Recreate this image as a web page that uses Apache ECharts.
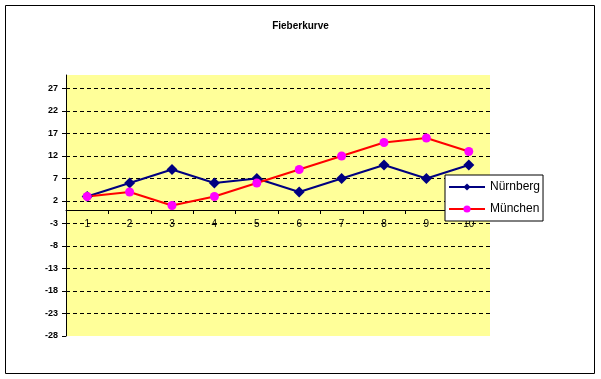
<!DOCTYPE html>
<html><head><meta charset="utf-8">
<script src="https://cdn.jsdelivr.net/npm/echarts@6/dist/echarts.min.js"></script>
<style>html,body{margin:0;padding:0;background:#fff}#c{width:601px;height:379px}</style>
</head><body><div id="c"></div>
<script>
var categories = ['1','2','3','4','5','6','7','8','9','10'];
var nuernberg = [3, 6, 9, 6, 7, 4, 7, 10, 7, 10];
var muenchen = [3, 4, 1, 3, 6, 9, 12, 15, 16, 13];
var yTicks = [-28, -23, -18, -13, -8, -3, 2, 7, 12, 17, 22, 27];
var yMin = -28, yMax = 30, yStep = 5;
var titleText = 'Fieberkurve';
var seriesNames = ['Nürnberg', 'München'];

var chart = echarts.init(document.getElementById('c'), null, {renderer: 'canvas'});
var font = 'Liberation Sans, Arial, sans-serif';
chart.setOption({
  animation: false,
  backgroundColor: '#fff',
  title: {text: titleText, left: 'center', top: 16,
    textStyle: {fontFamily: font, fontSize: 10, fontWeight: 'bold', color: '#000'}},
  graphic: [{type: 'rect', shape: {x: 5.5, y: 5.5, width: 589, height: 368},
    style: {fill: 'none', stroke: '#000', lineWidth: 1}}],
  legend: {
    orient: 'vertical', left: 445, top: 175, width: 97,
    itemWidth: 36, itemHeight: 9, itemGap: 10,
    padding: [6, 3, 6, 3],
    borderColor: '#000', borderWidth: 1, backgroundColor: '#fff',
    textStyle: {fontFamily: font, fontSize: 12, color: '#000'},
    data: seriesNames
  },
  grid: {left: 66, right: 111, top: 75, bottom: 43, show: true,
    backgroundColor: '#ffff99', borderWidth: 0},
  xAxis: {
    type: 'category', data: categories, boundaryGap: true, position: 'bottom', offset: 0,
    axisLine: {show: true, onZero: false, lineStyle: {color: '#000', width: 1}},
    axisTick: {show: true, length: 4, inside: false, lineStyle: {color: '#000'}},
    axisLabel: {color: '#000', fontFamily: font, fontSize: 10, margin: 9},
    splitLine: {show: false}
  },
  yAxis: {
    type: 'value', min: yMin, max: yMax, interval: yStep,
    axisLine: {show: true, lineStyle: {color: '#000'}},
    axisTick: {show: true, length: 4, customValues: yTicks, lineStyle: {color: '#000'}},
    axisLabel: {color: '#000', fontFamily: font, fontSize: 9, fontWeight: 'bold', margin: 8,
      customValues: yTicks},
    splitLine: {show: true, showMinLine: false, showMaxLine: true,
      lineStyle: {color: '#000', type: [4, 3], width: 1}}
  },
  series: [
    {name: seriesNames[0], type: 'line', data: nuernberg, symbol: 'diamond', symbolSize: 11,
      itemStyle: {color: '#000080'}, lineStyle: {color: '#000080', width: 2}},
    {name: seriesNames[1], type: 'line', data: muenchen, symbol: 'circle', symbolSize: 9,
      itemStyle: {color: '#ff00ff'}, lineStyle: {color: '#ff0000', width: 2}}
  ]
});
// place the category axis at value 0 using the library's own y scale
var zeroY = chart.convertToPixel({yAxisIndex: 0}, 0);
var minY = chart.convertToPixel({yAxisIndex: 0}, yMin);
chart.setOption({xAxis: {offset: -(minY - zeroY)}});
</script></body></html>
